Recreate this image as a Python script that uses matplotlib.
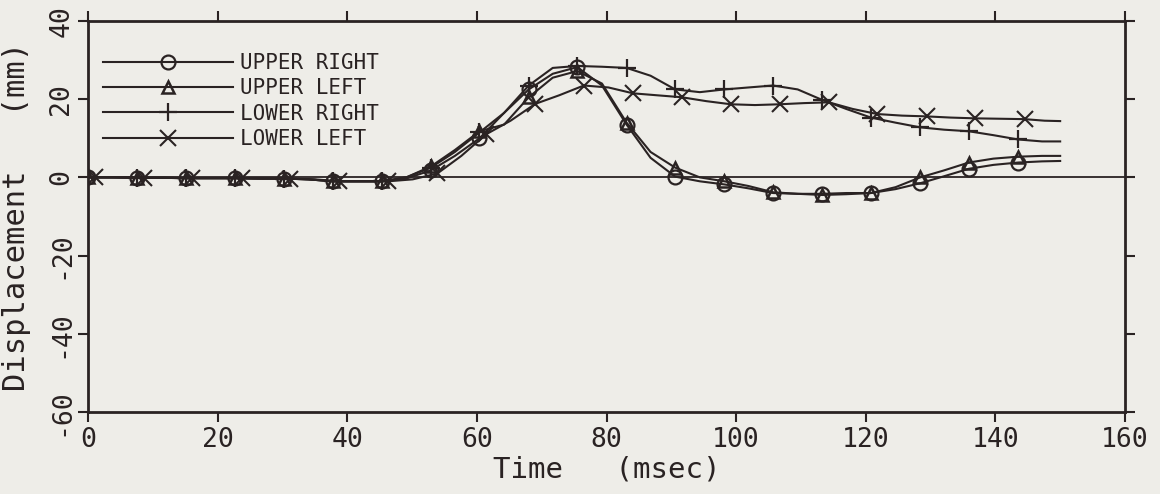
import matplotlib
matplotlib.use("Agg")
import matplotlib.pyplot as plt

# ---------------- data ----------------
time_ms = [0.0, 3.8, 7.6, 11.3, 15.1, 18.9, 22.7, 26.4, 30.2, 34.0,
           37.8, 41.5, 45.3, 49.1, 52.9, 56.6, 60.4, 64.2, 68.0, 71.7,
           75.5, 79.3, 83.1, 86.8, 90.6, 94.4, 98.2, 101.9, 105.7, 109.5,
           113.3, 117.0, 120.8, 124.6, 128.4, 132.1, 135.9, 139.7, 143.5, 147.2,
           150.0]

time_ms_lower_left = [1.0, 4.8, 8.6, 12.3, 16.1, 19.9, 23.7, 27.4, 31.2, 35.0,
                      38.8, 42.5, 46.3, 50.1, 53.9, 57.6, 61.4, 65.2, 69.0, 72.7,
                      76.5, 80.3, 84.1, 87.8, 91.6, 95.4, 99.2, 102.9, 106.7, 110.5,
                      114.3, 118.0, 121.8, 125.6, 129.4, 133.1, 136.9, 140.7, 144.5, 147.6,
                      150.0]

upper_right = [0.0, 0.0, -0.1, -0.1, -0.2, -0.2, -0.2, -0.3, -0.3, -0.5,
               -1.0, -1.0, -1.0, -0.3, 1.8, 5.5, 10.0, 16.5, 22.5, 26.5,
               28.2, 23.5, 13.5, 5.0, 0.2, -1.0, -1.8, -2.8, -4.0, -4.2,
               -4.2, -4.0, -4.0, -3.0, -1.5, 0.3, 2.2, 3.2, 3.8, 4.1,
               4.2]

upper_left = [0.0, 0.0, -0.1, -0.1, -0.2, -0.2, -0.2, -0.3, -0.3, -0.5,
              -1.0, -1.0, -1.0, 0.0, 2.8, 7.0, 11.8, 13.5, 20.5, 25.5,
              27.2, 24.0, 14.0, 6.5, 2.5, 0.0, -1.0, -2.2, -3.8, -4.2,
              -4.5, -4.3, -4.0, -2.5, 0.0, 1.8, 3.8, 4.8, 5.3, 5.5,
              5.5]

lower_right = [0.0, 0.0, -0.1, -0.1, -0.2, -0.2, -0.2, -0.3, -0.3, -0.5,
               -1.0, -1.0, -1.0, 0.0, 2.5, 6.5, 11.5, 16.5, 23.5, 28.0,
               28.5, 28.3, 28.0, 26.0, 22.5, 21.8, 22.5, 23.0, 23.5, 22.5,
               19.8, 17.5, 15.3, 14.0, 12.8, 12.2, 11.8, 10.8, 9.7, 9.2,
               9.2]

lower_left = [0.0, 0.0, -0.1, -0.1, -0.2, -0.2, -0.2, -0.3, -0.3, -0.5,
              -1.0, -1.0, -1.0, -0.5, 1.0, 5.5, 11.0, 14.5, 18.8, 21.0,
              23.5, 23.0, 21.5, 21.0, 20.5, 19.5, 18.7, 18.5, 18.7, 19.0,
              19.2, 17.5, 16.2, 15.8, 15.6, 15.3, 15.1, 15.0, 14.9, 14.5,
              14.4]

series_labels = ["UPPER RIGHT", "UPPER LEFT", "LOWER RIGHT", "LOWER LEFT"]
x_ticks = [0, 20, 40, 60, 80, 100, 120, 140, 160]
y_ticks = [-60, -40, -20, 0, 20, 40]
x_tick_labels = ["0", "20", "40", "60", "80", "100", "120", "140", "160"]
y_tick_labels = ["-60", "-40", "-20", "0", "20", "40"]

# ---------------- style ----------------
BG = "#eeede8"
INK = "#2a2323"
FONT = "DejaVu Sans Mono"

fig = plt.figure(figsize=(11.6, 4.94), dpi=100, facecolor=BG)
ax = fig.add_axes([0.0759, 0.166, 0.8939, 0.7915])
ax.set_facecolor(BG)

marks = slice(0, 39, 2)
common = dict(color=INK, lw=1.5, markevery=marks)
ax.plot(time_ms, upper_right, marker="o", ms=10, mfc="none", mec=INK, mew=1.6,
        label=series_labels[0], **common)
ax.plot(time_ms, upper_left, marker="^", ms=8, mfc="none", mec=INK, mew=1.8,
        label=series_labels[1], **common)
ax.plot(time_ms, lower_right, marker="+", ms=13, mec=INK, mew=1.6,
        label=series_labels[2], **common)
ax.plot(time_ms_lower_left, lower_left, marker="x", ms=12, mec=INK, mew=1.5,
        label=series_labels[3], **common)

ax.axhline(0, color=INK, lw=1.3, zorder=1)

ax.set_xlim(0, 160)
ax.set_ylim(-60, 40)
ax.set_xticks(x_ticks)
ax.set_xticklabels(x_tick_labels, fontfamily=FONT, fontsize=19, color=INK)
ax.set_yticks(y_ticks)
ax.set_yticklabels(y_tick_labels, fontfamily=FONT, fontsize=19, color=INK,
                   rotation=90, va="center")

ax.tick_params(axis="both", which="both", direction="out", length=7, width=1.5,
               colors=INK, top=True, right=True, labeltop=False, labelright=False)
ax.tick_params(axis="x", pad=4)
ax.tick_params(axis="y", pad=3)
for s in ax.spines.values():
    s.set_color(INK)
    s.set_linewidth(2.0)

ax.set_xlabel("Time   (msec)", fontfamily=FONT, fontsize=21, color=INK)
ax.set_ylabel("Displacement   (mm)", fontfamily=FONT, fontsize=22, color=INK)
ax.xaxis.set_label_coords(0.5, -0.112)
ax.yaxis.set_label_coords(-0.055, 0.5)

leg = ax.legend(loc="upper left", bbox_to_anchor=(0.0, 0.955), frameon=False,
                prop={"family": FONT, "size": 15}, handlelength=6.25,
                handletextpad=0.35, labelspacing=0.25, borderaxespad=0.3,
                numpoints=1, labelcolor=INK)

fig.savefig("out.png", dpi=100, facecolor=BG)
